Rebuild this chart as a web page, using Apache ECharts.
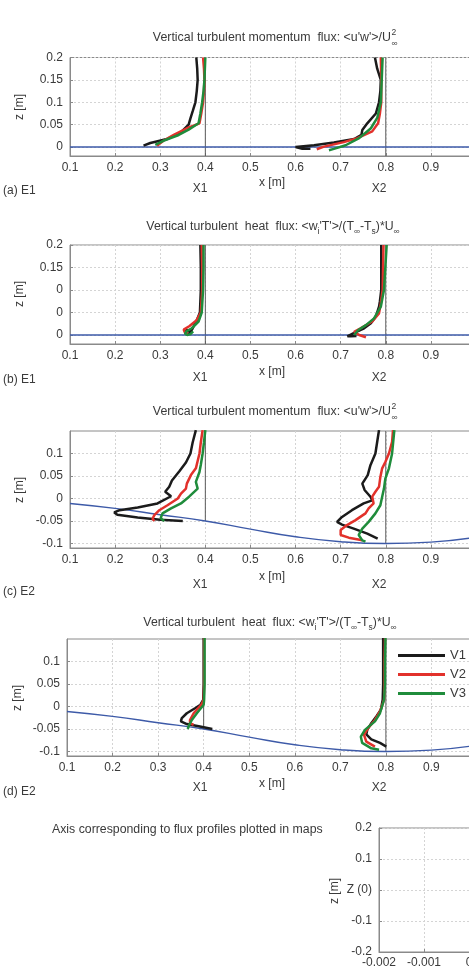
<!DOCTYPE html>
<html><head><meta charset="utf-8">
<script src="https://cdn.jsdelivr.net/npm/echarts@6/dist/echarts.min.js"></script>
<style>html,body{margin:0;padding:0;background:#fff}#c{width:469px;height:974px}</style>
</head><body><div id="c"></div><script>
// ---------------- DATA ----------------
const seriesNames = ['V1', 'V2', 'V3'];
const refX = [0.4, 0.8];
const flatSurfaceX = [0.1, 1.0];
const flatSurfaceZ = [0, 0];
const waveSurfaceX = [0.1, 0.2, 0.3, 0.4, 0.5, 0.6, 0.7, 0.8, 0.9, 1.0];
const waveSurfaceZ = [-0.011, -0.022, -0.036, -0.050, -0.068, -0.085, -0.096, -0.100, -0.097, -0.086];

const xTicksMain = [0.1, 0.2, 0.3, 0.4, 0.5, 0.6, 0.7, 0.8, 0.9, 1.0];
const yTicksE1 = [0, 0.05, 0.1, 0.15, 0.2];
const yLabelsA = ['0', '0.05', '0.1', '0.15', '0.2'];
const yLabelsB = ['0', '0', '0', '0.15', '0.2'];
const yTicksE2 = [-0.1, -0.05, 0, 0.05, 0.1];
const yLabelsE2 = ['-0.1', '-0.05', '0', '0.05', '0.1'];
const xTicksE = [-0.002, -0.001, 0, 0.001, 0.002];
const xLabelsE = ['-0.002', '-0.001', '0', '0.001', '0.002'];
const yTicksE = [-0.2, -0.1, 0, 0.1, 0.2];
const yLabelsE = ['-0.2', '-0.1', 'Z (0)', '0.1', '0.2'];

// (a) E1 momentum flux profiles [x, z]
const aX1V1 = [[0.380,0.2],[0.382,0.175],[0.383,0.15],[0.381,0.125],[0.378,0.1],[0.372,0.08],[0.367,0.064],[0.363,0.05],[0.344,0.031],[0.315,0.018],[0.278,0.009],[0.263,0.003]];
const aX1V2 = [[0.395,0.2],[0.397,0.175],[0.398,0.15],[0.397,0.125],[0.395,0.1],[0.391,0.075],[0.387,0.053],[0.359,0.042],[0.330,0.027],[0.307,0.014],[0.293,0.003]];
const aX1V3 = [[0.400,0.2],[0.399,0.175],[0.398,0.15],[0.396,0.125],[0.393,0.1],[0.389,0.075],[0.385,0.053],[0.363,0.039],[0.341,0.027],[0.307,0.014],[0.289,0.005]];
const aX2V1 = [[0.776,0.2],[0.781,0.175],[0.789,0.15],[0.788,0.125],[0.785,0.1],[0.778,0.075],[0.759,0.053],[0.748,0.038],[0.746,0.027],[0.730,0.018],[0.685,0.010],[0.641,0.004],[0.600,0.0],[0.596,-0.003],[0.615,-0.004],[0.633,-0.004]];
const aX2V2 = [[0.789,0.2],[0.790,0.15],[0.790,0.1],[0.787,0.075],[0.783,0.053],[0.770,0.035],[0.737,0.020],[0.707,0.011],[0.663,0.001],[0.647,-0.005]];
const aX2V3 = [[0.793,0.2],[0.791,0.15],[0.789,0.1],[0.781,0.065],[0.767,0.042],[0.741,0.020],[0.711,0.004],[0.685,-0.004],[0.674,-0.007]];
// (b) E1 heat flux profiles
const bX1V1 = [[0.389,0.2],[0.390,0.15],[0.390,0.1],[0.388,0.05],[0.382,0.035],[0.372,0.015],[0.366,0.005],[0.360,0.002],[0.355,0.006],[0.358,0.011],[0.365,0.009]];
const bX1V2 = [[0.392,0.2],[0.393,0.15],[0.393,0.1],[0.390,0.05],[0.380,0.032],[0.365,0.02],[0.352,0.012],[0.355,0.005],[0.362,0.003]];
const bX1V3 = [[0.396,0.2],[0.396,0.15],[0.395,0.1],[0.392,0.05],[0.385,0.03],[0.370,0.015],[0.358,0.008],[0.355,0.003],[0.360,0.0],[0.367,0.002],[0.373,0.008]];
const bX2V1 = [[0.790,0.2],[0.790,0.15],[0.790,0.1],[0.787,0.075],[0.785,0.063],[0.778,0.041],[0.767,0.026],[0.752,0.015],[0.730,0.005],[0.715,-0.003],[0.722,-0.003],[0.735,-0.002]];
const bX2V2 = [[0.795,0.2],[0.794,0.15],[0.793,0.1],[0.789,0.07],[0.785,0.048],[0.770,0.030],[0.744,0.015],[0.730,0.007],[0.741,0.000],[0.756,-0.005]];
const bX2V3 = [[0.802,0.2],[0.799,0.15],[0.796,0.1],[0.789,0.063],[0.774,0.037],[0.756,0.022],[0.739,0.011],[0.730,0.0]];
// (c) E2 momentum flux profiles
const cX1V1 = [[0.379,0.152],[0.372,0.125],[0.367,0.1],[0.357,0.08],[0.342,0.06],[0.326,0.04],[0.320,0.026],[0.311,0.015],[0.324,0.005],[0.294,-0.011],[0.250,-0.020],[0.210,-0.026],[0.198,-0.031],[0.205,-0.036],[0.250,-0.042],[0.300,-0.047],[0.350,-0.050]];
const cX1V2 = [[0.394,0.152],[0.390,0.125],[0.387,0.1],[0.379,0.067],[0.368,0.052],[0.359,0.033],[0.357,0.022],[0.346,0.011],[0.339,0.0],[0.316,-0.015],[0.298,-0.026],[0.287,-0.037],[0.283,-0.045],[0.287,-0.050]];
const cX1V3 = [[0.400,0.152],[0.397,0.125],[0.394,0.1],[0.390,0.075],[0.387,0.059],[0.379,0.037],[0.383,0.022],[0.364,0.004],[0.346,-0.011],[0.324,-0.022],[0.305,-0.033],[0.301,-0.044],[0.309,-0.050]];
const cX2V1 = [[0.785,0.152],[0.781,0.126],[0.777,0.1],[0.766,0.074],[0.760,0.052],[0.748,0.033],[0.753,0.019],[0.766,0.004],[0.770,-0.004],[0.751,-0.011],[0.725,-0.026],[0.703,-0.041],[0.692,-0.052],[0.703,-0.058],[0.729,-0.067],[0.759,-0.078],[0.782,-0.089]];
const cX2V2 = [[0.816,0.152],[0.814,0.126],[0.807,0.1],[0.799,0.081],[0.792,0.067],[0.788,0.048],[0.785,0.026],[0.777,0.015],[0.770,0.004],[0.773,-0.011],[0.762,-0.022],[0.755,-0.033],[0.733,-0.048],[0.714,-0.059],[0.700,-0.070],[0.700,-0.081],[0.718,-0.087],[0.748,-0.093]];
const cX2V3 = [[0.819,0.152],[0.814,0.1],[0.807,0.067],[0.799,0.044],[0.796,0.022],[0.792,0.004],[0.788,-0.015],[0.777,-0.033],[0.762,-0.052],[0.748,-0.067],[0.740,-0.081],[0.748,-0.093],[0.755,-0.096]];
// (d) E2 heat flux profiles
const dX1V1 = [[0.400,0.152],[0.400,0.1],[0.400,0.05],[0.399,0.015],[0.393,0.004],[0.381,-0.004],[0.363,-0.015],[0.352,-0.026],[0.350,-0.033],[0.363,-0.039],[0.389,-0.044],[0.419,-0.050]];
const dX1V2 = [[0.401,0.152],[0.401,0.1],[0.401,0.05],[0.400,0.015],[0.395,0.004],[0.378,-0.015],[0.370,-0.030],[0.370,-0.037],[0.378,-0.041]];
const dX1V3 = [[0.402,0.152],[0.402,0.1],[0.402,0.05],[0.401,0.015],[0.400,0.004],[0.385,-0.015],[0.374,-0.030],[0.367,-0.044],[0.365,-0.050]];
const dX2V1 = [[0.794,0.152],[0.794,0.1],[0.794,0.05],[0.793,0.015],[0.789,-0.007],[0.779,-0.022],[0.768,-0.037],[0.759,-0.052],[0.757,-0.062],[0.768,-0.073],[0.787,-0.081],[0.801,-0.089]];
const dX2V2 = [[0.798,0.152],[0.797,0.1],[0.797,0.05],[0.796,0.015],[0.787,-0.011],[0.776,-0.030],[0.761,-0.048],[0.752,-0.063],[0.757,-0.078],[0.776,-0.089]];
const dX2V3 = [[0.799,0.152],[0.798,0.1],[0.798,0.05],[0.796,0.015],[0.787,-0.015],[0.776,-0.033],[0.754,-0.052],[0.745,-0.067],[0.748,-0.081],[0.768,-0.093],[0.785,-0.096]];

// ---------------- BUILD ----------------
const FONT = '"Liberation Sans", Arial, sans-serif';
const TXT = '#3a3a3a';
const COLORS = {V1: '#1b1b1b', V2: '#e2312b', V3: '#1f8c3b'};
const BLUE = '#3d5aa8';

const grids = [
  {left: 70, top: 57.5, width: 406, height: 98.5},
  {left: 70, top: 245, width: 406, height: 99},
  {left: 70, top: 431, width: 406, height: 117},
  {left: 67, top: 639, width: 410, height: 117},
  {left: 379, top: 828, width: 180, height: 124}
].map(g => Object.assign({show: true, borderColor: '#8a8a8a', borderWidth: 1, backgroundColor: 'transparent',
  containLabel: false, outerBoundsMode: 'none'}, g));

const splitStyle = {show: true, lineStyle: {color: '#d4d4d4', width: 1, type: [2, 2]}};

function xAxisMain(gi) {
  return {type: 'value', gridIndex: gi, min: 0.1, max: 1.0, interval: 0.1,
    axisLine: {show: true, onZero: false, lineStyle: {color: '#8a8a8a'}},
    axisTick: {show: true, inside: true, length: 3, lineStyle: {color: '#8a8a8a'}},
    axisLabel: {color: TXT, fontSize: 12, fontFamily: FONT, margin: 6, hideOverlap: false,
      formatter: v => { const i = xTicksMain.findIndex(t => Math.abs(t - v) < 1e-9); return i >= 0 ? String(xTicksMain[i]) : ''; }},
    splitLine: splitStyle};
}
function yAxisCustom(gi, min, max, ticks, labels) {
  return {type: 'value', gridIndex: gi, min: min, max: max,
    axisLine: {show: true, onZero: false, lineStyle: {color: '#8a8a8a'}},
    axisTick: {show: true, inside: true, length: 3, lineStyle: {color: '#8a8a8a'}, customValues: ticks},
    axisLabel: {color: TXT, fontSize: 12, fontFamily: FONT, margin: 7, customValues: ticks,
      formatter: v => { const i = ticks.findIndex(t => Math.abs(t - v) < 1e-9); return i >= 0 ? labels[i] : ''; }},
    splitLine: splitStyle};
}

const xAxes = [xAxisMain(0), xAxisMain(1), xAxisMain(2), xAxisMain(3),
  {type: 'value', gridIndex: 4, min: -0.002, max: 0.002, interval: 0.001,
    axisLine: {show: true, onZero: false, lineStyle: {color: '#8a8a8a'}},
    axisTick: {show: true, inside: true, length: 3, lineStyle: {color: '#8a8a8a'}},
    axisLabel: {color: TXT, fontSize: 12, fontFamily: FONT, margin: 5, hideOverlap: false,
      formatter: v => { const i = xTicksE.findIndex(t => Math.abs(t - v) < 1e-12); return i >= 0 ? xLabelsE[i] : ''; }},
    splitLine: splitStyle}];
const yAxes = [
  yAxisCustom(0, -0.02, 0.2, yTicksE1, yLabelsA),
  yAxisCustom(1, -0.02, 0.2, yTicksE1, yLabelsB),
  yAxisCustom(2, -0.11, 0.15, yTicksE2, yLabelsE2),
  yAxisCustom(3, -0.11, 0.15, yTicksE2, yLabelsE2),
  yAxisCustom(4, -0.2, 0.2, yTicksE, yLabelsE)
];

const series = [];
function addLine(gi, name, data, color, width, z) {
  series.push({type: 'line', name: name, xAxisIndex: gi, yAxisIndex: gi, data: data,
    showSymbol: false, symbol: 'none', silent: true, animation: false, z: z,
    lineStyle: {color: color, width: width}, itemStyle: {color: color}});
}
const flatPts = flatSurfaceX.map((x, i) => [x, flatSurfaceZ[i]]);
const wavePts = waveSurfaceX.map((x, i) => [x, waveSurfaceZ[i]]);
function surfAt(x) { const i = waveSurfaceX.findIndex(t => Math.abs(t - x) < 1e-9); return waveSurfaceZ[i]; }
[0, 1].forEach(gi => {
  refX.forEach(x => addLine(gi, 'ref', [[x, -0.02], [x, 0.2]], '#5a5a5a', 1, 1));
  addLine(gi, 'surface', flatPts, BLUE, 1.6, 2);
});
[2, 3].forEach(gi => {
  refX.forEach(x => addLine(gi, 'ref', [[x, surfAt(x)], [x, 0.15]], '#5a5a5a', 1, 1));
  series.push({type: 'line', name: 'surface', xAxisIndex: gi, yAxisIndex: gi, data: wavePts, smooth: 0.5,
    showSymbol: false, symbol: 'none', silent: true, animation: false, z: 2,
    lineStyle: {color: BLUE, width: 1.4}, itemStyle: {color: BLUE}});
});
const profiles = [
  [0, [aX1V1, aX1V2, aX1V3]], [0, [aX2V1, aX2V2, aX2V3]],
  [1, [bX1V1, bX1V2, bX1V3]], [1, [bX2V1, bX2V2, bX2V3]],
  [2, [cX1V1, cX1V2, cX1V3]], [2, [cX2V1, cX2V2, cX2V3]],
  [3, [dX1V1, dX1V2, dX1V3]], [3, [dX2V1, dX2V2, dX2V3]]
];
profiles.forEach(([gi, arr]) => arr.forEach((d, k) => addLine(gi, seriesNames[k], d, COLORS[seriesNames[k]], 2.5, 5)));

// ---------------- TEXT ----------------
const graphic = [];
function txt(x, y, text, opts) {
  graphic.push(Object.assign({type: 'text', x: x, y: y, silent: true,
    style: Object.assign({text: text, fill: TXT, fontSize: 12, fontFamily: FONT, textAlign: 'center', textVerticalAlign: 'middle'}, (opts && opts.style) || {})},
    (opts && opts.el) || {}));
}
function momTitle(xr, y) {
  txt(xr, y, "Vertical turbulent momentum  flux: <u'w'>/U", {style: {fontSize: 12.4, textAlign: 'right'}});
  txt(xr + 0.5, y - 5, '2', {style: {fontSize: 8.5, textAlign: 'left'}});
  txt(xr + 0.5, y + 6, '\u221e', {style: {fontSize: 8.5, textAlign: 'left'}});
}
function heatTitle(xc, y) {
  txt(xc, y, "Vertical turbulent  heat  flux: <w{s|i}'T'>/(T{s|\u221e}-T{s|s})*U{s|\u221e}",
    {style: {fontSize: 12.3, lineHeight: 19, rich: {s: {fontSize: 8.5, lineHeight: 8.5, verticalAlign: 'bottom', fill: TXT, fontFamily: FONT}}}});
}
function zLabel(x, y) { txt(x, y, 'z [m]', {el: {rotation: Math.PI / 2}}); }

momTitle(391, 38);
heatTitle(273, 227);
momTitle(391, 412);
heatTitle(270, 623);

zLabel(20, 107); zLabel(20, 294); zLabel(20, 490); zLabel(18, 698); zLabel(335, 891);

const bottoms = [
  {xm: 183, xl: 189, pl: 191, tag: '(a) E1'},
  {xm: 372, xl: 378, pl: 380, tag: '(b) E1'},
  {xm: 577, xl: 585, pl: 592, tag: '(c) E2'},
  {xm: 784, xl: 788, pl: 792, tag: '(d) E2'}
];
bottoms.forEach(b => {
  txt(272, b.xm, 'x [m]');
  txt(200, b.xl, 'X1');
  txt(379, b.xl, 'X2');
  txt(3, b.pl, b.tag, {style: {textAlign: 'left'}});
});
txt(52, 830, 'Axis corresponding to flux profiles plotted in maps', {style: {fontSize: 12.3, textAlign: 'left'}});

const chart = echarts.init(document.getElementById('c'), null, {renderer: 'canvas'});
chart.setOption({
  animation: false,
  backgroundColor: '#fff',
  grid: grids,
  xAxis: xAxes,
  yAxis: yAxes,
  legend: {data: seriesNames, orient: 'vertical', left: 398, top: 649, padding: 0,
    itemWidth: 47, itemHeight: 3, icon: 'rect', itemGap: 6,
    textStyle: {color: TXT, fontSize: 13, fontFamily: FONT}, selectedMode: false},
  series: series,
  graphic: graphic
});
</script></body></html>
